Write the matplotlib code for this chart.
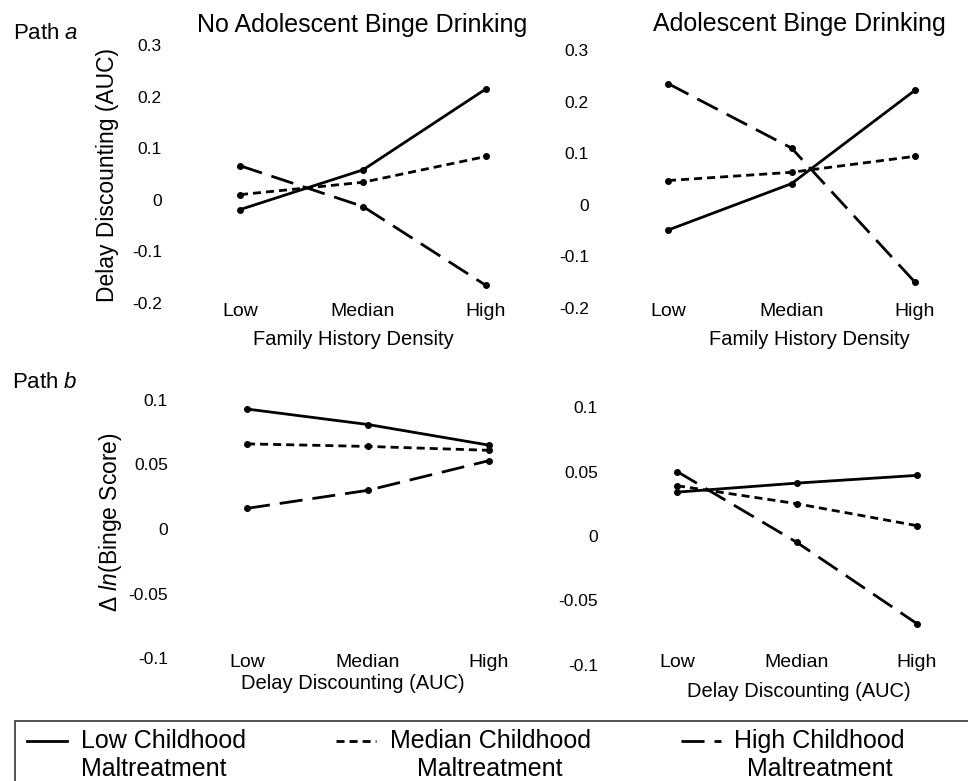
import matplotlib.pyplot as plt
from matplotlib.lines import Line2D
from matplotlib.patches import Rectangle
from matplotlib.legend_handler import HandlerLine2D

plt.rcParams['font.family'] = 'Liberation Sans'
plt.rcParams['mathtext.fontset'] = 'custom'
plt.rcParams['mathtext.rm'] = 'Liberation Sans'
plt.rcParams['mathtext.it'] = 'Liberation Sans:italic'

# ---------------- data ----------------
levels = ['Low', 'Median', 'High']

# Path a : delay discounting (AUC) by family history density
pa_nobinge_low = [-0.019, 0.058, 0.215]
pa_nobinge_med = [0.010, 0.034, 0.084]
pa_nobinge_high = [0.066, -0.013, -0.166]
pa_binge_low = [-0.049, 0.041, 0.222]
pa_binge_med = [0.047, 0.063, 0.094]
pa_binge_high = [0.235, 0.110, -0.150]

# Path b : change in ln(binge score) by delay discounting
pb_nobinge_low = [0.093, 0.081, 0.065]
pb_nobinge_med = [0.066, 0.064, 0.061]
pb_nobinge_high = [0.016, 0.030, 0.053]
pb_binge_low = [0.034, 0.041, 0.047]
pb_binge_med = [0.039, 0.025, 0.008]
pb_binge_high = [0.050, -0.005, -0.068]

a_yticks = [-0.2, -0.1, 0, 0.1, 0.2, 0.3]
a_yticklabels = ['-0.2', '-0.1', '0', '0.1', '0.2', '0.3']
b_yticks = [-0.1, -0.05, 0, 0.05, 0.1]
b_yticklabels = ['-0.1', '-0.05', '0', '0.05', '0.1']

legend_labels = ['Low Childhood\nMaltreatment',
                 'Median Childhood\nMaltreatment',
                 'High Childhood\nMaltreatment']

# line styles: solid / short dash / long dash
STYLES = ['-', (0, (2.9, 1.8)), (0, (8.3, 3.6))]
LW = 2.0

W, H = 968, 781
fig = plt.figure(figsize=(W / 100, H / 100), dpi=100)


def panel(L, R, xlow, xhigh, ytop, ybot, ylim, yticks, yticklabels, series,
          title, title_xy, xlabel, xlabel_xy, xpad, ylabel=None, ylabel_xy=None):
    # everything in pixels of the final image
    ax = fig.add_axes([L / W, 1 - ybot / H, (R - L) / W, (ybot - ytop) / H])
    per = (xhigh - xlow) / 2
    ax.set_xlim((L - xlow) / per, (R - xlow) / per)
    ax.set_ylim(*ylim)
    fx = lambda px: (px - L) / (R - L)
    fy = lambda py: (ybot - py) / (ybot - ytop)

    x = list(range(len(levels)))
    for vals, ls in zip(series, STYLES):
        ax.plot(x, vals, color='black', lw=LW, ls=ls, marker='o', ms=4,
                solid_capstyle='butt', dash_capstyle='butt')

    ax.set_xticks(x)
    ax.set_xticklabels(levels, fontsize=14)
    ax.set_yticks(yticks)
    ax.set_yticklabels(yticklabels, fontsize=12.5)
    ax.tick_params(axis='both', length=0)
    ax.tick_params(axis='x', pad=xpad)
    ax.tick_params(axis='y', pad=3)
    for s in ax.spines.values():
        s.set_visible(False)

    ax.set_title(title, fontsize=18, x=fx(title_xy[0]), y=fy(title_xy[1]), pad=0)
    ax.set_xlabel(xlabel, fontsize=14.5)
    ax.xaxis.set_label_coords(fx(xlabel_xy[0]), fy(xlabel_xy[1]))
    if ylabel:
        ax.set_ylabel(ylabel, fontsize=16.5)
        ax.yaxis.set_label_coords(fx(ylabel_xy[0]), fy(ylabel_xy[1]))
    return ax


ax1 = panel(166, 520, 240, 486, 45, 303, (-0.2, 0.3), a_yticks, a_yticklabels,
            [pa_nobinge_low, pa_nobinge_med, pa_nobinge_high],
            'No Adolescent Binge Drinking', (362, 32),
            'Family History Density', (353, 330), 0,
            'Delay Discounting (AUC)', (119, 175))
ax2 = panel(593, 955, 668, 915, 50, 308, (-0.2, 0.3), a_yticks, a_yticklabels,
            [pa_binge_low, pa_binge_med, pa_binge_high],
            'Adolescent Binge Drinking', (799, 31),
            'Family History Density', (809, 330), -3.5)
ax3 = panel(172, 520, 247, 489, 400, 658, (-0.1, 0.1), b_yticks, b_yticklabels,
            [pb_nobinge_low, pb_nobinge_med, pb_nobinge_high],
            '', (353, 380),
            'Delay Discounting (AUC)', (353, 674), -3,
            'Δ $\\mathit{ln}$(Binge Score)', (124, 522))
ax4 = panel(602, 955, 677, 917, 407, 665, (-0.1, 0.1), b_yticks, b_yticklabels,
            [pb_binge_low, pb_binge_med, pb_binge_high],
            '', (799, 380),
            'Delay Discounting (AUC)', (799, 682), -8)

fig.text(13 / W, 1 - 39 / H, 'Path $\\mathit{a}$', fontsize=16, va='baseline')
fig.text(12 / W, 1 - 388 / H, 'Path $\\mathit{b}$', fontsize=16, va='baseline')


# legend: handle sits on the first line of the two-line label
class RaisedLine(HandlerLine2D):
    def create_artists(self, legend, orig_handle, xdescent, ydescent, width,
                       height, fontsize, trans):
        return super().create_artists(legend, orig_handle, xdescent,
                                       ydescent - 1.2 * fontsize, width,
                                       height, fontsize, trans)


handles = [Line2D([], [], color='black', lw=LW, ls=ls) for ls in STYLES]
leg = fig.legend(handles, legend_labels, ncol=3, loc='upper left',
                 bbox_to_anchor=(27 / W, 1 - 729 / H), frameon=False,
                 fontsize=18, handlelength=1.6, handletextpad=0.55,
                 columnspacing=3.6, borderpad=0, borderaxespad=0,
                 handler_map={Line2D: RaisedLine()})
for t in leg.get_texts()[1:]:
    t.set_multialignment('center')

fig.add_artist(Rectangle((15 / W, -0.05), 1.0, (H - 721) / H + 0.05,
                         transform=fig.transFigure, fill=False,
                         edgecolor='#444444', lw=1.3))

fig.savefig('out.png', dpi=100, facecolor='white')
